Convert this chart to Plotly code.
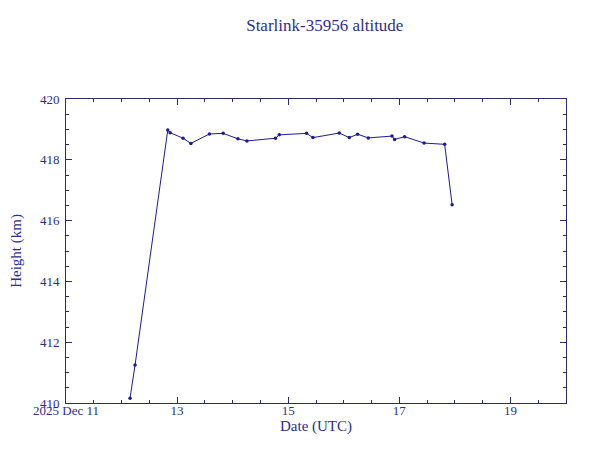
import plotly.graph_objects as go

times = [
    "2025-12-12 03:40", "2025-12-12 05:50", "2025-12-12 19:58", "2025-12-12 20:59",
    "2025-12-13 02:35", "2025-12-13 05:56", "2025-12-13 13:58", "2025-12-13 19:54",
    "2025-12-14 02:15", "2025-12-14 06:09", "2025-12-14 18:30", "2025-12-14 20:07",
    "2025-12-15 07:55", "2025-12-15 10:41", "2025-12-15 22:03", "2025-12-16 02:23",
    "2025-12-16 05:59", "2025-12-16 10:35", "2025-12-16 20:50", "2025-12-16 21:58",
    "2025-12-17 02:17", "2025-12-17 10:41", "2025-12-17 19:35", "2025-12-17 22:48",
]
height_km = [
    410.16, 411.25, 418.98, 418.89,
    418.71, 418.54, 418.85, 418.87,
    418.69, 418.62, 418.71, 418.82,
    418.87, 418.73, 418.88, 418.73,
    418.84, 418.72, 418.78, 418.67,
    418.76, 418.55, 418.51, 416.52,
]

x_tickvals = ["2025-12-11", "2025-12-13", "2025-12-15", "2025-12-17", "2025-12-19"]
x_ticktext = ["2025 Dec 11", "13", "15", "17", "19"]
y_tickvals = [410, 412, 414, 416, 418, 420]

navy = "#1c1c8c"
axis_col = "#2a2a70"
text_col = "#2e2e8a"
font_family = "Liberation Serif, Times New Roman, serif"

fig = go.Figure()
fig.add_trace(go.Scatter(
    x=times,
    y=height_km,
    mode="lines+markers",
    line=dict(color=navy, width=1),
    marker=dict(color=navy, size=3.5),
    showlegend=False,
))

axis_common = dict(
    showgrid=False,
    zeroline=False,
    showline=True,
    linecolor=axis_col,
    linewidth=1,
    mirror="ticks",
    ticks="inside",
    ticklen=6,
    tickcolor=axis_col,
    automargin=False,
    tickfont=dict(family=font_family, size=13, color=text_col),
)

fig.update_xaxes(
    type="date",
    range=["2025-12-11", "2025-12-20"],
    tickvals=x_tickvals,
    ticktext=x_ticktext,
    ticklabelstandoff=-5,
    minor=dict(dtick=43200000, tick0="2025-12-11", ticks="inside", ticklen=3,
               tickcolor=axis_col, showgrid=False),
    title=dict(text="Date (UTC)", font=dict(family=font_family, size=15, color=text_col),
               standoff=0),
    **axis_common,
)
fig.update_yaxes(
    range=[410, 420],
    tickvals=y_tickvals,
    ticklabelstandoff=3,
    minor=dict(dtick=0.5, ticks="inside", ticklen=3, tickcolor=axis_col, showgrid=False),
    title=dict(text="Height (km)", font=dict(family=font_family, size=15, color=text_col),
               standoff=20),
    **axis_common,
)

fig.update_layout(
    width=600,
    height=453,
    margin=dict(l=58, r=42, t=91, b=58),
    paper_bgcolor="white",
    plot_bgcolor="white",
    title=dict(text="Starlink-35956 altitude", x=0.528, xanchor="center", y=0.962,
               yanchor="middle", font=dict(family=font_family, size=17, color=text_col)),
)

fig.write_html("out.html")
